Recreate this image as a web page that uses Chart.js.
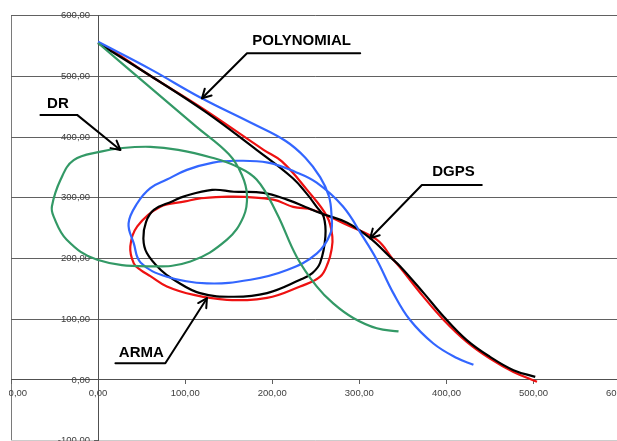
<!DOCTYPE html>
<html>
<head>
<meta charset="utf-8">
<script src="https://cdn.jsdelivr.net/npm/chart.js@4.4.0/dist/chart.umd.min.js"></script>
<style>
  html, body { margin: 0; padding: 0; background: #fff; width: 617px; height: 441px; overflow: hidden; }
  #wrap { position: absolute; left: 9px; top: 0; width: 620px; height: 460px; }
  #c { display: block; width: 620px; height: 460px; }
</style>
</head>
<body>
<div id="wrap"><canvas id="c" width="620" height="460"></canvas></div>
<script>
// Trajectories (metres) of the four position estimates
const drX = [0, 54, 112, 150, 165, 171, 167, 148, 106, 60, -1, -36, -51, -53, -43, -28, 3, 28, 60, 92, 131, 157, 182, 205, 228, 251, 270, 293, 320, 345];
const drY = [555, 489, 418, 372, 338, 304, 269, 231, 195, 187, 198, 231, 269, 286, 330, 362, 376, 382, 384, 379, 366, 353, 330, 275, 203, 154, 126, 102, 85, 80];

const polyX = [0, 60, 119, 175, 215, 238, 255, 265, 268, 267, 251, 217, 175, 125, 79, 49, 41, 35, 45, 60, 79, 102, 132, 158, 195, 226, 251, 281, 304, 320, 339, 358, 385, 412, 431];
const polyY = [557, 512, 464, 424, 394, 366, 334, 303, 272, 242, 208, 181, 165, 159, 170, 193, 225, 258, 291, 316, 330, 346, 358, 361, 358, 343, 325, 286, 236, 198, 143, 99, 60, 36, 25];

const dgpsX = [0, 60, 123, 182, 223, 240, 251, 259, 261, 255, 246, 232, 194, 156, 117, 87, 72, 56, 52, 55, 64, 85, 98, 131, 156, 190, 217, 238, 255, 286, 312, 335, 347, 374, 397, 423, 450, 477, 502];
const dgpsY = [555, 501, 442, 379, 333, 306, 285, 269, 236, 193, 176, 165, 143, 137, 143, 165, 181, 209, 233, 260, 280, 294, 302, 313, 310, 308, 297, 285, 275, 259, 234, 203, 187, 143, 104, 66, 38, 16, 5];

const armaX = [0, 20, 60, 119, 190, 211, 240, 263, 269, 268, 264, 255, 232, 194, 148, 110, 79, 60, 49, 41, 37, 45, 71, 100, 117, 152, 201, 224, 247, 286, 320, 339, 348, 373, 396, 423, 450, 477, 504];
const armaY = [555, 539, 501, 448, 379, 360, 313, 269, 236, 214, 193, 170, 154, 135, 132, 140, 154, 171, 181, 192, 220, 253, 285, 294, 299, 302, 297, 285, 280, 255, 231, 198, 183, 138, 100, 63, 35, 13, -3];

// Axis ticks
const axisMin = -100;
const axisMax = 600;
const axisStep = 100;

const seriesNames = ['DR', 'POLYNOMIAL', 'DGPS', 'ARMA'];

const toPoints = (xs, ys) => xs.map((v, i) => ({ x: v, y: ys[i] }));
const fmt = v => Number(v).toFixed(2).replace('.', ',');

// Callout labels with underline and arrow, placed in data units
const callouts = [
  { label: 'POLYNOMIAL', text: [233.7, 558.6], under: [171, 301, 538.2], from: 'left',  tip: [119.3, 464] },
  { label: 'DR',         text: [-46.1, 455],   under: [-66.2, -24.1, 436.6], from: 'right', tip: [25.6, 378.9] },
  { label: 'DGPS',       text: [408, 342.7],   under: [371.8, 440.6, 321.2], from: 'left',  tip: [312.4, 233.4] },
  { label: 'ARMA',       text: [49.7, 45.3],   under: [19.9, 77.2, 27.5],   from: 'right', tip: [125, 134.6] }
];

const calloutPlugin = {
  id: 'callouts',
  afterDatasetsDraw(chart) {
    const { ctx } = chart;
    const sx = chart.scales.x, sy = chart.scales.y;
    ctx.save();
    ctx.strokeStyle = '#000';
    ctx.fillStyle = '#000';
    ctx.lineWidth = 2;
    ctx.lineCap = 'round';
    ctx.lineJoin = 'round';
    ctx.font = 'bold 15px "Liberation Sans", Arial, sans-serif';
    ctx.textAlign = 'center';
    ctx.textBaseline = 'middle';
    callouts.forEach(c => {
      ctx.fillText(c.label, sx.getPixelForValue(c.text[0]), sy.getPixelForValue(c.text[1]));
      const ux0 = sx.getPixelForValue(c.under[0]);
      const ux1 = sx.getPixelForValue(c.under[1]);
      const uy = sy.getPixelForValue(c.under[2]);
      const ex = c.from === 'left' ? ux0 : ux1;
      const tx = sx.getPixelForValue(c.tip[0]);
      const ty = sy.getPixelForValue(c.tip[1]);
      ctx.beginPath();
      ctx.moveTo(c.from === 'left' ? ux1 : ux0, uy);
      ctx.lineTo(ex, uy);
      ctx.lineTo(tx, ty);
      ctx.stroke();
      const ang = Math.atan2(ty - uy, tx - ex);
      const len = 10, spread = 0.5;
      ctx.beginPath();
      ctx.moveTo(tx - len * Math.cos(ang - spread), ty - len * Math.sin(ang - spread));
      ctx.lineTo(tx, ty);
      ctx.lineTo(tx - len * Math.cos(ang + spread), ty - len * Math.sin(ang + spread));
      ctx.stroke();
    });
    ctx.restore();
  }
};

// The value axis sits at x = 0; keep its labels clear of the tick marks
const yLabelGap = 8;
const yLabelShift = {
  id: 'yLabelShift',
  beforeDraw(chart) {
    const items = chart.scales.y.getLabelItems(chart.chartArea);
    if (!items._shifted) {
      items.forEach(it => { it.options.translation[0] -= yLabelGap; });
      items._shifted = true;
    }
  }
};

const noEdgePadding = s => { s.paddingLeft = 0; s.paddingRight = 0; s.paddingTop = 0; s.paddingBottom = 0; };

const tickFont = { family: '"Liberation Sans", Arial, sans-serif', size: 9.5 };

new Chart(document.getElementById('c'), {
  type: 'scatter',
  data: {
    datasets: [
      { label: seriesNames[0], data: toPoints(drX, drY), borderColor: '#339966' },
      { label: seriesNames[1], data: toPoints(polyX, polyY), borderColor: '#3366ff' },
      { label: seriesNames[2], data: toPoints(dgpsX, dgpsY), borderColor: '#000000' },
      { label: seriesNames[3], data: toPoints(armaX, armaY), borderColor: '#ee1111' }
    ].map(d => Object.assign(d, { showLine: true, fill: false, pointRadius: 0, borderWidth: 2.2, tension: 0.4 }))
  },
  options: {
    responsive: false,
    animation: false,
    layout: { padding: { left: 2, top: 15.7, right: 8.4, bottom: 19.4 } },
    plugins: { legend: { display: false }, tooltip: { enabled: false } },
    scales: {
      x: {
        type: 'linear',
        position: { y: 0 },
        min: axisMin, max: axisMax,
        afterFit: noEdgePadding,
        ticks: { stepSize: axisStep, callback: fmt, font: tickFont, color: '#404040', padding: 4, maxRotation: 0, autoSkip: false },
        grid: {
          color: c => (c.tick && c.tick.value === axisMin) ? '#7a7a7a' : 'rgba(0,0,0,0)',
          tickColor: '#606060', tickLength: 4, lineWidth: 1
        },
        border: { color: '#505050', width: 1 }
      },
      y: {
        type: 'linear',
        position: { x: 0 },
        min: axisMin, max: axisMax,
        afterFit: noEdgePadding,
        ticks: { stepSize: axisStep, callback: fmt, font: tickFont, color: '#404040', padding: 4, autoSkip: false },
        grid: {
          color: c => (c.tick && c.tick.value === axisMin) ? '#cccccc' : '#616161',
          tickColor: '#606060', tickLength: 4, lineWidth: 1
        },
        border: { color: '#505050', width: 1 }
      }
    }
  },
  plugins: [calloutPlugin, yLabelShift]
});
</script>
</body>
</html>
